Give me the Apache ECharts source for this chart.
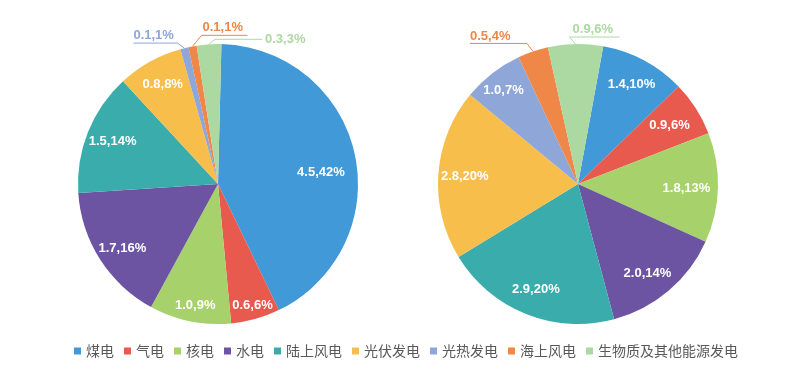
<!DOCTYPE html>
<html><head><meta charset="utf-8">
<script src="https://cdn.jsdelivr.net/npm/echarts@6/dist/echarts.min.js"></script>
<style>html,body{margin:0;padding:0;background:#fff}#c{width:800px;height:369px}</style>
</head><body><div id="c"></div>
<script>
// ---- data ----
const categories = ['煤电','气电','核电','水电','陆上风电','光伏发电','光热发电','海上风电','生物质及其他能源发电'];
const leftValues = [4.5, 0.6, 1.0, 1.7, 1.5, 0.8, 0.1, 0.1, 0.3];
const leftPercents = [42, 6, 9, 16, 14, 8, 1, 1, 3];
const rightValues = [1.4, 0.9, 1.8, 2.0, 2.9, 2.8, 1.0, 0.5, 0.9];
const rightPercents = [10, 6, 13, 14, 20, 20, 7, 4, 6];

// ---- style ----
const colors = ['#4299d7','#e8594e','#a7d16a','#6c54a3','#3aacac','#f7be4c','#8ea6d8','#ef8748','#abd9a1'];
const labelStyle = {fontFamily: "'Liberation Sans', Arial, sans-serif", fontWeight: 'bold', fontSize: 13};
const leftOuter = {6:{ex:-7,ey:-5,h:-44,mode:'above',pad:0}, 7:{ex:9,ey:-11,h:46,mode:'above',pad:1}, 8:{ex:6,ey:-5,h:47,mode:'beside',pad:3}};
const rightOuter = {7:{ex:-6,ey:-8,h:-57,mode:'above',pad:0}, 8:{ex:-6,ey:-7,h:50,mode:'above',pad:3}};
// small nudges of inside labels (px)
const leftNudge = {0:[-8,12], 1:[4,12], 2:[0,10], 3:[0,3]};
const rightNudge = {1:[-4,3], 2:[-5,1], 3:[-4,3], 6:[-5,-4]};

function txt(v, p){ return v.toFixed(1) + ',' + p + '%'; }

function makeLayout(cfgMap){
  return function(params){
    const cfg = cfgMap[params.dataIndex];
    if (!cfg || !params.labelLinePoints) return {};
    const p0 = params.labelLinePoints[0];
    const p1 = [p0[0] + cfg.ex, p0[1] + cfg.ey];
    const p2 = [p1[0] + cfg.h, p1[1]];
    let x, y, va;
    if (cfg.mode === 'beside') { x = p2[0] + cfg.pad; y = p2[1]; va = 'middle'; }
    else { x = Math.min(p1[0], p2[0]) + cfg.pad; y = p1[1] - 1; va = 'bottom'; }
    return {x: x, y: y, align: 'left', verticalAlign: va, labelLinePoints: [p0, p1, p2]};
  };
}
function makeNudge(map){
  return function(params){
    const n = map[params.dataIndex];
    return n ? {dx: n[0], dy: n[1]} : {};
  };
}

function mainSeries(values, percents, center, startAngle, outer){
  return {
    type: 'pie', center: center, radius: 140, startAngle: startAngle,
    avoidLabelOverlap: false, silent: true,
    itemStyle: {borderWidth: 0},
    label: {show: false},
    labelLine: {show: true, length: 10, length2: 40, lineStyle: {width: 1}},
    labelLayout: makeLayout(outer),
    data: values.map((v, i) => {
      const d = {name: categories[i], value: v, itemStyle: {color: colors[i]}};
      if (outer[i]) {
        d.label = Object.assign({show: true, position: 'outside', color: colors[i],
          formatter: txt(v, percents[i])}, labelStyle);
        d.labelLine = {show: true, lineStyle: {color: colors[i], width: 1}};
      }
      return d;
    })
  };
}
function labelSeries(values, percents, center, startAngle, outer, nudge){
  return {
    type: 'pie', center: center, radius: [81, 140], startAngle: startAngle,
    avoidLabelOverlap: false, silent: true, legendHoverLink: false,
    itemStyle: {color: 'rgba(0,0,0,0)', borderWidth: 0},
    labelLine: {show: false},
    label: Object.assign({show: true, position: 'inside', color: '#fff'}, labelStyle),
    labelLayout: makeNudge(nudge),
    data: values.map((v, i) => ({
      name: categories[i], value: v,
      label: outer[i] ? {show: false} : {show: true, formatter: txt(v, percents[i])}
    }))
  };
}

const chart = echarts.init(document.getElementById('c'), null, {renderer: 'canvas'});
chart.setOption({
  animation: false,
  backgroundColor: '#fff',
  legend: {
    data: categories, left: 69, top: 339, icon: 'rect', itemWidth: 7, itemHeight: 7, itemGap: 10,
    textStyle: {fontSize: 14, color: '#595959', fontFamily: "'Noto Sans CJK SC', sans-serif"}
  },
  series: [
    mainSeries(leftValues, leftPercents, [218, 184], 88.6, leftOuter),
    mainSeries(rightValues, rightPercents, [578, 184], 79.6, rightOuter),
    labelSeries(leftValues, leftPercents, [218, 184], 88.6, leftOuter, leftNudge),
    labelSeries(rightValues, rightPercents, [578, 184], 79.6, rightOuter, rightNudge)
  ]
});
</script>
</body></html>
